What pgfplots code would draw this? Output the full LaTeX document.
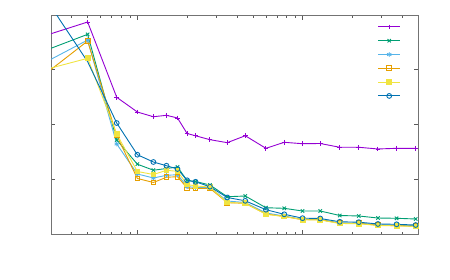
\documentclass[border=0pt]{standalone}
\usepackage{pgfplots}
\usepackage{pgfplotstable}
\pgfplotsset{compat=1.18}
\definecolor{gpA}{HTML}{9400D3}
\definecolor{gpB}{HTML}{009E73}
\definecolor{gpC}{HTML}{56B4E9}
\definecolor{gpD}{HTML}{E69F00}
\definecolor{gpE}{HTML}{F0E442}
\definecolor{gpF}{HTML}{0072B2}
\pgfplotstableread{
x     a     b     c     d     e     f
3     3.658 3.392 3.191 3.005 3.032 4.155
5     3.872 3.647 3.543 3.525 3.209 3.147
7.5   2.497 1.717 1.644 1.799 1.826 2.027
10    2.228 1.275 1.096 1.014 1.142 1.448
12.5  2.142 1.165 1.023 0.941 1.087 1.315
15    2.168 1.196 1.072 1.036 1.163 1.247
17.5  2.119 1.224 1.083 1.047 1.145 1.187
20    1.836 0.977 0.868 0.840 0.904 0.981
22.5  1.794 0.959 0.849 0.831 0.877 0.953
27.5  1.723 0.895 0.849 0.835 0.858 0.864
35    1.668 0.681 0.603 0.572 0.575 0.667
45    1.795 0.694 0.575 0.561 0.561 0.606
60    1.565 0.480 0.384 0.365 0.360 0.444
77.5  1.675 0.469 0.329 0.320 0.320 0.360
100   1.649 0.420 0.265 0.261 0.261 0.289
128   1.653 0.420 0.265 0.261 0.256 0.283
168   1.584 0.338 0.201 0.196 0.192 0.223
219   1.584 0.329 0.201 0.196 0.188 0.216
286   1.553 0.292 0.164 0.159 0.155 0.183
371   1.565 0.287 0.159 0.152 0.150 0.177
484   1.565 0.274 0.150 0.141 0.137 0.164
}\data
\begin{document}
\begin{tikzpicture}
\path[use as bounding box] (0pt,0pt) rectangle (450pt,279pt);
\begin{axis}[
  at={(51pt,45pt)}, anchor=south west,
  scale only axis, width=367pt, height=219pt,
  xmode=log, xmin=3, xmax=500, ymin=0, ymax=4,
  xtick={10,100}, minor xtick={4,5,6,7,8,9,20,30,40,50,60,70,80,90,200,300,400},
  ytick={1,2,3}, xticklabels={}, yticklabels={},
  tick align=inside, tick pos=both,
  major tick length=4.5pt, minor tick length=2.5pt,
  axis line style={draw=black!55, line width=0.8pt},
  every tick/.style={black!65, line width=0.6pt},
  every axis plot/.append style={line width=0.9pt, mark size=2.4pt},
  legend image code/.code={\draw plot[mark indices={2}] coordinates {(0pt,0pt) (10.85pt,0pt) (21.7pt,0pt)};},
  legend style={draw=none, fill=none, inner sep=0pt, row sep=0pt, column sep=0pt,
    at={(0.9556,0.978)}, anchor=north east,
    nodes={inner sep=0pt, minimum height=13.8pt}},
]
\addplot[gpA, mark=+, mark indices={2,...,21}] table[x=x,y=a] {\data}; \addlegendentry{\mbox{}}
\addplot[gpB, mark=x, mark indices={2,...,21}] table[x=x,y=b] {\data}; \addlegendentry{\mbox{}}
\addplot[gpC, mark=asterisk, mark indices={2,...,21}] table[x=x,y=c] {\data}; \addlegendentry{\mbox{}}
\addplot[gpD, mark=square, mark indices={2,...,21}] table[x=x,y=d] {\data}; \addlegendentry{\mbox{}}
\addplot[gpE, mark=square*, mark indices={2,...,21}] table[x=x,y=e] {\data}; \addlegendentry{\mbox{}}
\addplot[gpF, mark=o, mark indices={2,...,21}] table[x=x,y=f] {\data}; \addlegendentry{\mbox{}}
\end{axis}
\end{tikzpicture}
\end{document}
